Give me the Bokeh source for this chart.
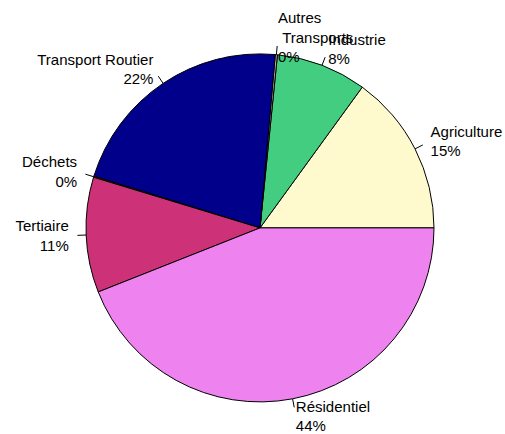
import numpy as np
from bokeh.plotting import figure
from bokeh.models import Range1d, ColumnDataSource
from bokeh.core.properties import value
from bokeh.embed import file_html
from bokeh.resources import INLINE

# Data (counter-clockwise from 3 o'clock, as in R's pie)
categories = ["Agriculture", "Industrie", "Autres Transports", "Transport Routier",
              "Déchets", "Tertiaire", "Résidentiel"]
label_texts = ["Agriculture", "Industrie", "Autres\n\u00a0Transports", "Transport Routier",
               "Déchets", "Tertiaire", "Résidentiel"]
shares = [15.0, 8.4, 0.2, 21.6, 0.1, 10.7, 44.0]
pct_labels = ["15%", "8%", "0%", "22%", "0%", "11%", "44%"]
colors = ["#FFFACD", "#43CD80", "#B0B0B0", "#00008B", "#8B4513", "#CD3278", "#EE82EE"]

W, H = 505, 434
cx_px, cy_px = 259.5, 227.4
R_px = 174.0

vals = np.array(shares, dtype=float)
frac = vals / vals.sum()
ends = np.cumsum(frac) * 2 * np.pi
starts = np.concatenate([[0.0], ends[:-1]])
mids = (starts + ends) / 2

p = figure(width=W, height=H, output_backend="svg", toolbar_location=None,
           x_axis_type=None, y_axis_type=None, min_border=0,
           x_range=Range1d(-cx_px / R_px, (W - cx_px) / R_px),
           y_range=Range1d(-(H - cy_px) / R_px, cy_px / R_px))
p.grid.visible = False
p.outline_line_color = None
p.background_fill_color = "white"
p.border_fill_color = "white"

src = ColumnDataSource(dict(start=starts, end=ends, color=colors))
p.wedge(x=0, y=0, radius=1, start_angle="start", end_angle="end",
        fill_color="color", line_color="black", line_width=1, source=src)

c, s = np.cos(mids), np.sin(mids)
p.segment(x0=c, y0=s, x1=1.05 * c, y1=1.05 * s, line_color="black", line_width=1)

texts = [f"{a}\n{b}" for a, b in zip(label_texts, pct_labels)]
aligns = ["left" if ci > 0 else "right" for ci in c]
tsrc = ColumnDataSource(dict(x=1.1 * c, y=1.1 * s, text=texts, align=aligns))
p.text(x="x", y="y", text="text", text_align="align", text_baseline="middle",
       text_font=value("Liberation Sans"), text_font_size="15px",
       text_line_height=1.15, text_color="black", source=tsrc)

open("out.html", "w").write(file_html(p, INLINE))
